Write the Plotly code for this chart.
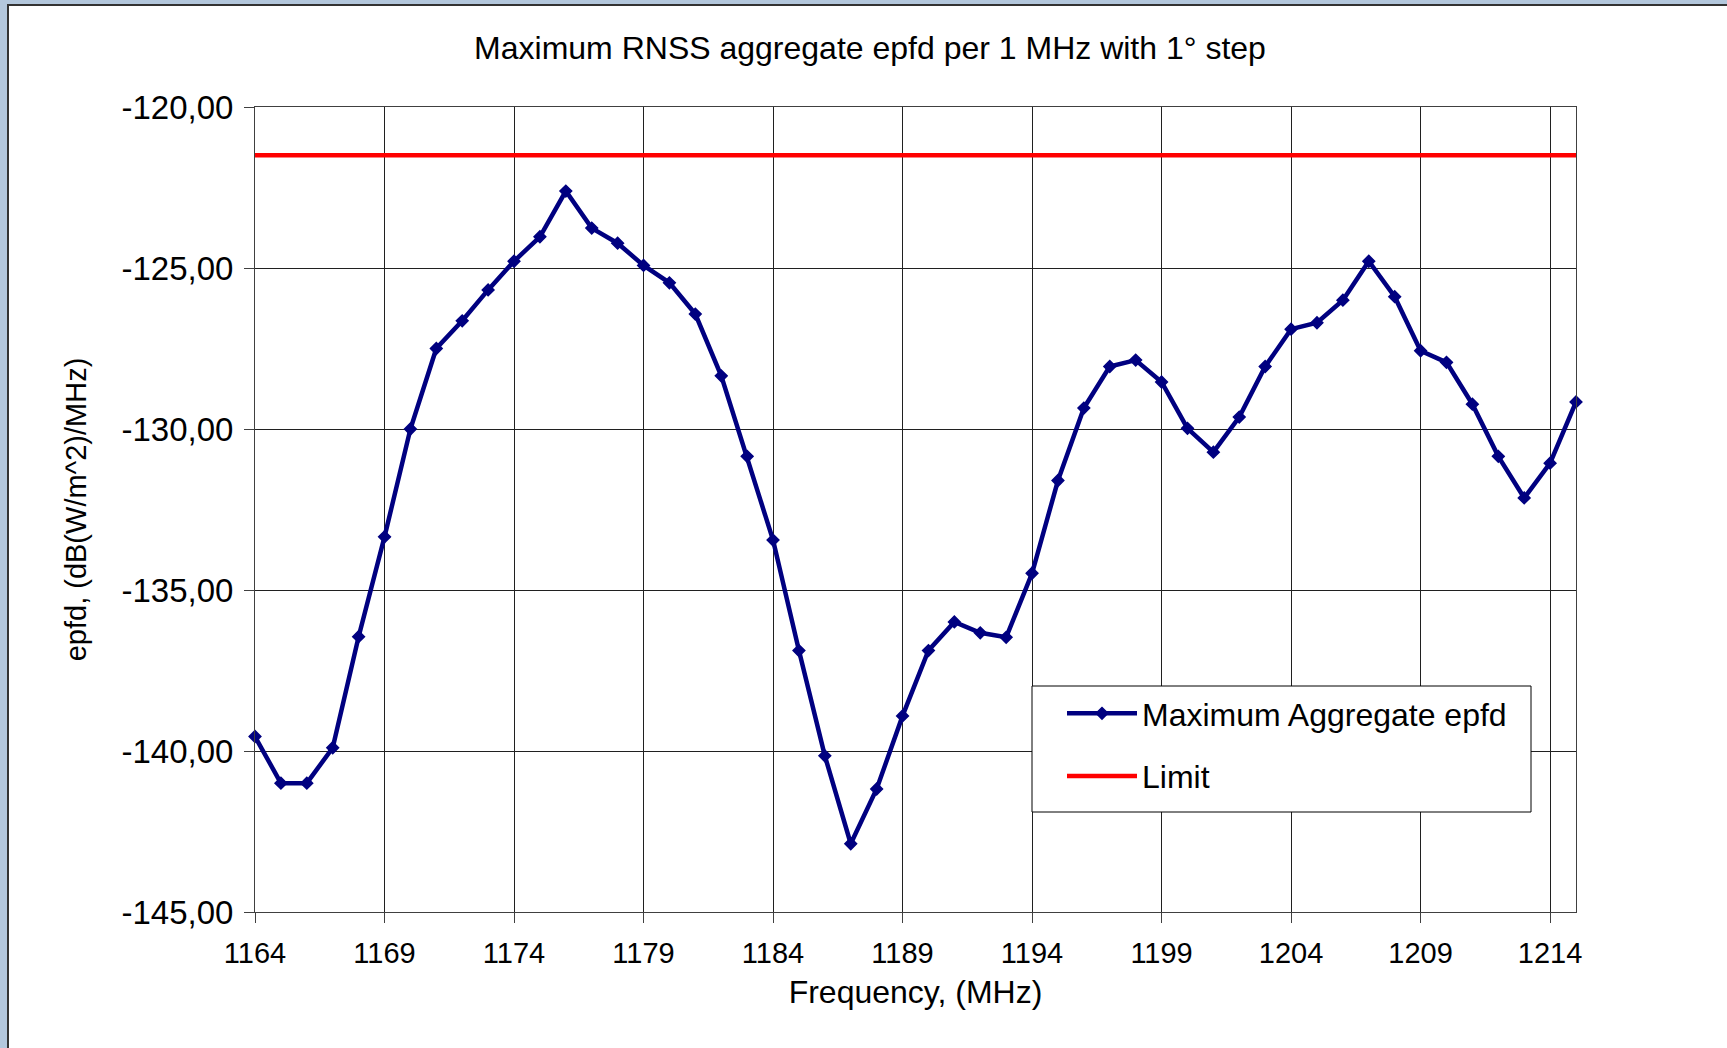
import plotly.graph_objects as go

# data (1 MHz steps)
freqs = list(range(1164, 1216))
epfd_max = [
    -139.55, -141.00, -141.00, -139.90, -136.45, -133.35, -130.00, -127.50, -126.64, -125.68,
    -124.79, -124.03, -122.61, -123.76, -124.23, -124.92, -125.46, -126.43, -128.35, -130.85,
    -133.45, -136.88, -140.15, -142.88, -141.18, -138.91, -136.88, -135.99, -136.33, -136.47,
    -134.48, -131.60, -129.35, -128.06, -127.86, -128.54, -129.98, -130.72, -129.63, -128.06,
    -126.90, -126.70, -126.00, -124.79, -125.89, -127.57, -127.93, -129.23, -130.85, -132.14,
    -131.06, -129.16,
]
limit_db = -121.5
x_ticks = list(range(1164, 1215, 5))
y_ticks = [-145, -140, -135, -130, -125, -120]
y_ticklabels = ["-145,00", "-140,00", "-135,00", "-130,00", "-125,00", "-120,00"]

W, H = 1727, 1048
L, R, T, B = 255, 1576, 107, 912  # plot area in px


def px(x):
    return (x - L) / (R - L)


def py(y):
    return 1 - (y - T) / (B - T)


font = "Liberation Sans, Arial, sans-serif"

fig = go.Figure()
fig.add_trace(go.Scatter(
    x=freqs, y=epfd_max, name="Maximum Aggregate epfd", mode="lines+markers",
    line=dict(color="#000080", width=4.5),
    marker=dict(symbol="diamond", size=9, color="#000080", line=dict(color="#000080", width=1.5)),
    cliponaxis=False, legendgroup="a",
))
fig.add_trace(go.Scatter(
    x=[freqs[0], freqs[-1]], y=[limit_db, limit_db], name="Limit", mode="lines",
    line=dict(color="#ff0000", width=4.5), legendgroup="b",
))

# outer white chart frame on the bluish background
fig.add_shape(type="rect", xref="paper", yref="paper", layer="below",
              x0=px(8), x1=px(W + 20), y0=py(H + 20), y1=py(5),
              fillcolor="white", line=dict(color="#333333", width=2))
# legend box (Excel-style, wider padding than plotly's own)
fig.add_shape(type="rect", xref="paper", yref="paper", layer="above",
              x0=px(1032), x1=px(1531), y0=py(812), y1=py(686),
              fillcolor="white", line=dict(color="black", width=1))

axis_common = dict(
    showline=True, linecolor="#404040", linewidth=1, mirror=True,
    showgrid=True, gridcolor="#202020", gridwidth=1,
    ticks="outside", ticklen=10, tickcolor="#404040",
    zeroline=False,
)

fig.update_layout(
    width=W, height=H,
    margin=dict(l=L, r=W - R, t=T, b=H - B),
    paper_bgcolor="#b3c7dc",
    plot_bgcolor="white",
    title=dict(text="Maximum RNSS aggregate epfd per 1 MHz with 1° step",
               font=dict(family=font, size=32, color="black"),
               x=px(870), xanchor="center", xref="paper", y=1 - 48 / H, yanchor="middle"),
    xaxis=dict(range=[1164, 1215], tickvals=x_ticks, ticklabelstandoff=5,
               tickfont=dict(family=font, size=29, color="black"),
               title=dict(text="Frequency, (MHz)", font=dict(family=font, size=32, color="black"), standoff=12),
               **axis_common),
    yaxis=dict(range=[-145, -120], tickvals=y_ticks, ticktext=y_ticklabels, ticklabelstandoff=4,
               tickfont=dict(family=font, size=33, color="black"),
               title=dict(text="epfd, (dB(W/m^2)/MHz)", font=dict(family=font, size=29, color="black"), standoff=26),
               **axis_common),
    legend=dict(x=px(1062), y=py(686), xanchor="left", yanchor="top",
                bgcolor="rgba(0,0,0,0)", borderwidth=0,
                font=dict(family=font, size=32, color="black"),
                traceorder="grouped", tracegroupgap=18, itemwidth=70),
    showlegend=True,
)

fig.write_html("out.html", config={"displayModeBar": False},
               post_script="document.body.style.margin='0px';")
